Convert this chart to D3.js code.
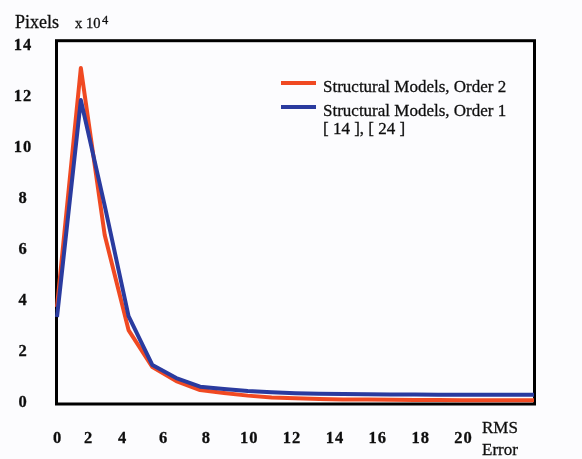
<!DOCTYPE html>
<html>
<head>
<meta charset="utf-8">
<script src="https://cdn.jsdelivr.net/npm/d3@7"></script>
<style>
  html, body { margin: 0; padding: 0; background: #fcfcfe; }
  svg { display: block; }
  text { font-family: "Liberation Serif", "Times New Roman", serif; fill: #111; stroke: #111; stroke-width: 0.3px; }
</style>
</head>
<body>
<svg id="chart"></svg>
<script>
// RMS error bins (one point per bin)
const rmsBins = d3.range(0, 21)

// pixel counts, x 10^4
const order2Values = [3.73, 13.1, 6.55, 2.82, 1.37, 0.82, 0.47, 0.35, 0.25, 0.18, 0.15,
    0.12, 0.1, 0.1, 0.09, 0.08, 0.08, 0.07, 0.07, 0.07, 0.07]
const order1Values = [3.33, 11.84, 7.7, 3.37, 1.45, 0.94, 0.6, 0.51, 0.43, 0.38, 0.34,
    0.32, 0.31, 0.3, 0.29, 0.29, 0.28, 0.28, 0.28, 0.28, 0.28]

const xTickLabels = [0, 2, 4, 6, 8, 10, 12, 14, 16, 18, 20]
const yTickLabels = [0, 2, 4, 6, 8, 10, 12, 14]

const seriesNames = ['Structural Models, Order 2', 'Structural Models, Order 1']
const seriesColors = ['#f04a24', '#2a3a9f']

// svg size
let width = 582
let height = 459

// plot frame
let frameLeft = 56.5
let frameRight = 534.5
let frameTop = 40.7
let frameBottom = 404

let svg = d3.select('#chart')
    .attr('width', width)
    .attr('height', height)

svg.append('rect')
    .attr('width', width)
    .attr('height', height)
    .attr('fill', '#fcfcfe')

// slight softening, the original is a scan
svg.append('defs').append('filter')
    .attr('id', 'soft')
    .append('feGaussianBlur')
    .attr('stdDeviation', 0.35)

let root = svg.append('g').attr('filter', 'url(#soft)')

let xScale = d3.scaleLinear().domain([0, 20]).range([57, 534])
let yScale = d3.scaleLinear().domain([0, 14.17]).range([402, frameTop])

// the printed tick labels do not sit on the data scale, so they get their own
let xLabelScale = d3.scaleLinear().domain([0, 2, 4, 6, 20]).range([57, 88, 122, 163, 463])

// frame
root.append('rect')
    .attr('x', frameLeft)
    .attr('y', frameTop)
    .attr('width', frameRight - frameLeft)
    .attr('height', frameBottom - frameTop)
    .attr('fill', 'none')
    .attr('stroke', '#000')
    .attr('stroke-width', 3)

// lines (order 2 under order 1)
let line = d3.line()
    .x((d, i) => xScale(rmsBins[i]))
    .y(d => yScale(d))

root.append('g')
    .selectAll('path')
    .data([order2Values, order1Values])
    .join('path')
    .attr('fill', 'none')
    .attr('stroke', (d, i) => seriesColors[i])
    .attr('stroke-width', 4)
    .attr('stroke-linejoin', 'round')
    .attr('d', line)

// y tick labels
let yAxis = d3.axisLeft(yScale).tickValues(yTickLabels).tickSize(0).tickPadding(0)
let yAxisG = root.append('g')
    .attr('transform', 'translate(23,0)')
    .call(yAxis)
yAxisG.select('.domain').remove()
yAxisG.selectAll('text')
    .attr('text-anchor', 'middle')
    .attr('dy', '0.25em')
    .style('font-family', '"Liberation Serif", serif')
    .style('font-size', '16.5px')
    .style('font-weight', 'bold')
    .style('letter-spacing', '1px')
    .attr('fill', '#111')

// x tick labels
let xAxis = d3.axisBottom(xLabelScale).tickValues(xTickLabels).tickSize(0).tickPadding(0)
let xAxisG = root.append('g')
    .attr('transform', 'translate(0,430)')
    .call(xAxis)
xAxisG.select('.domain').remove()
xAxisG.selectAll('text')
    .attr('dy', '0.8em')
    .style('font-family', '"Liberation Serif", serif')
    .style('font-size', '16.5px')
    .style('font-weight', 'bold')
    .style('letter-spacing', '1px')
    .attr('fill', '#111')

// axis titles
root.append('text').attr('x', 15).attr('y', 28).style('font-size', '18px').text('Pixels')
root.append('text').attr('x', 75).attr('y', 28).style('font-size', '14.5px').text('x 10')
root.append('text').attr('x', 102).attr('y', 24).style('font-size', '12.5px').text('4')
root.append('text').attr('x', 482).attr('y', 433).style('font-size', '17px').text('RMS')
root.append('text').attr('x', 482).attr('y', 455).style('font-size', '17px').text('Error')

// legend
let legend = root.append('g').attr('transform', 'translate(281,83)')
legend.selectAll('line')
    .data(seriesNames)
    .join('line')
    .attr('x1', 0)
    .attr('x2', 35)
    .attr('y1', (d, i) => i * 24)
    .attr('y2', (d, i) => i * 24)
    .attr('stroke', (d, i) => seriesColors[i])
    .attr('stroke-width', 4)
legend.selectAll('text')
    .data(seriesNames)
    .join('text')
    .attr('x', 42)
    .attr('y', (d, i) => i * 24 + 8.5)
    .style('font-size', '17px')
    .text(d => d)
legend.append('text')
    .attr('x', 42)
    .attr('y', 51)
    .style('font-size', '17px')
    .text('[ 14 ], [ 24 ]')
</script>
</body>
</html>
